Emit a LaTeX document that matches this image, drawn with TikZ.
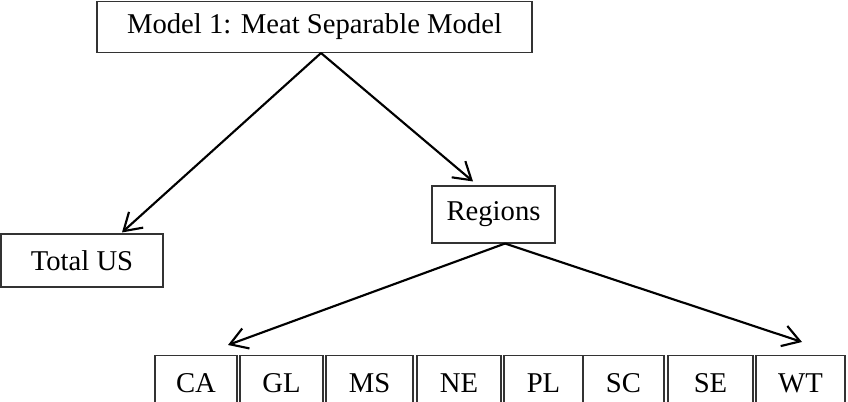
\documentclass[tikz,border=0pt]{standalone}
\usepackage{fontspec}
\setmainfont{Liberation Serif}
\usetikzlibrary{arrows.meta,calc}
\newdimen\pxsize
\setlength{\pxsize}{0.75pt}

\begin{document}
\begin{tikzpicture}[x=\pxsize,y=-\pxsize,
  box/.style={draw=black!80,line width=0.8pt,inner sep=0pt,
    font=\fontsize{21.5}{24}\selectfont},
  arr/.style={line width=1.6pt,-{Straight Barb[angle=64:15pt,line width=1.6pt]}}]
\useasboundingbox (0,0) rectangle (848,402);
\node[box,minimum width=435\pxsize,minimum height=51\pxsize] (model) at (314.5,27)
  {Model 1: Meat Separable Model};
\node[box,minimum width=162\pxsize,minimum height=53\pxsize] (total) at (82,260.5)
  {Total US};
\node[box,minimum width=123\pxsize,minimum height=57\pxsize] (regions) at (493.5,214.5)
  {Regions};
\foreach \rname/\rx/\rw in {CA/196/82,GL/281.5/83,MS/369.5/87,NE/459/84,
    PL/543.5/79,SC/623.5/81,SE/710.5/85,WT/800.5/89}{
  \node[box,minimum width=\rw\pxsize,minimum height=60\pxsize,anchor=north,
    text depth=0pt,text height=10.5pt] (\rname) at (\rx,355) {\rname};
}
\draw[arr] ($(model.south)+(6.5,0)$) -- ($(total.north)+(40,-1)$);
\draw[arr] ($(model.south)+(6.5,0)$) -- ($(regions.north)+(-20.5,-4)$);
\draw[arr] ($(regions.south)+(11.5,0)$) -- ($(CA.north)+(32,-10)$);
\draw[arr] ($(regions.south)+(11.5,0)$) -- ($(WT.north)+(1.5,-13)$);
\end{tikzpicture}
\end{document}
